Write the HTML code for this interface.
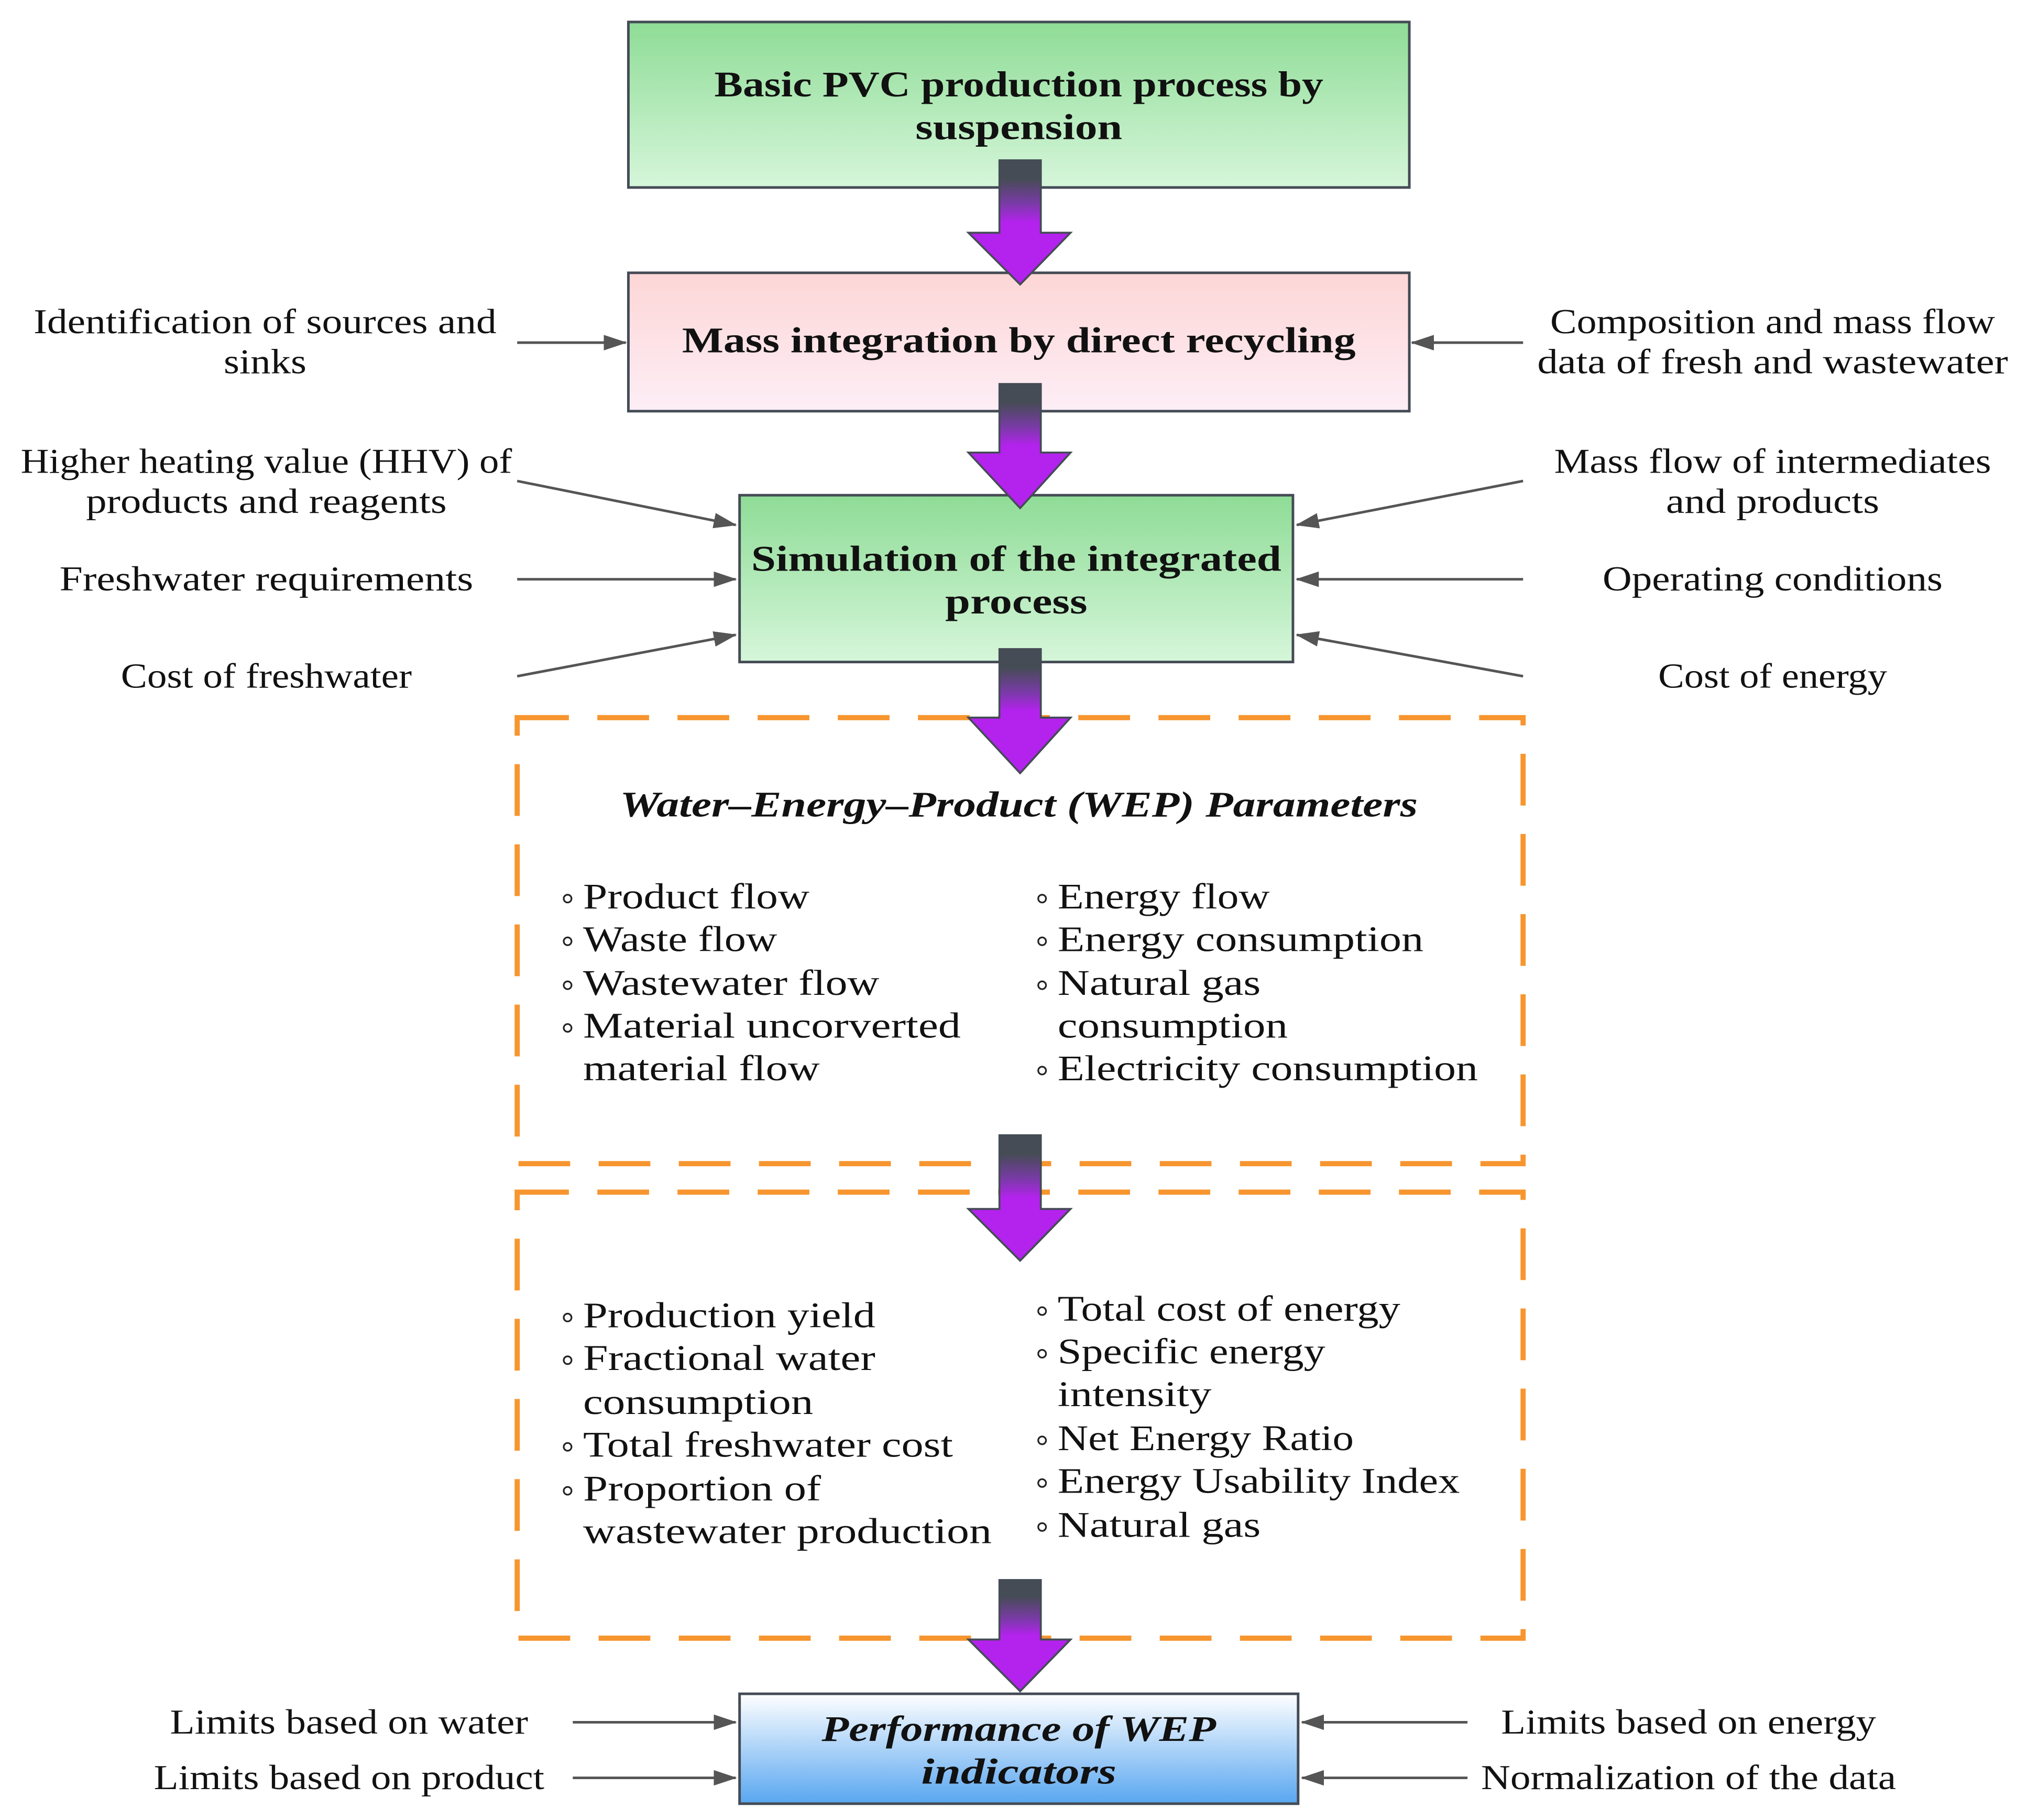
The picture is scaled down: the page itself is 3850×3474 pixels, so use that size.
<!DOCTYPE html>
<html><head><meta charset="utf-8"><style>
html,body{margin:0;padding:0;background:#fff}
svg{display:block}
text{font-family:"Liberation Serif","DejaVu Serif",serif;fill:#111;dominant-baseline:central}
</style></head><body>
<svg width="3850" height="3474" viewBox="0 0 1560 1407.6" preserveAspectRatio="none" xmlns="http://www.w3.org/2000/svg">
<defs>
<linearGradient id="g" x1="0" y1="0" x2="0" y2="1"><stop offset="0" stop-color="#8edc96"/><stop offset="1" stop-color="#d6f6da"/></linearGradient>
<linearGradient id="p" x1="0" y1="0" x2="0" y2="1"><stop offset="0" stop-color="#fdd6d6"/><stop offset="1" stop-color="#fdeef6"/></linearGradient>
<linearGradient id="b" x1="0" y1="0" x2="0" y2="1"><stop offset="0" stop-color="#ffffff"/><stop offset="1" stop-color="#58a6f0"/></linearGradient>
<linearGradient id="a" x1="0" y1="0" x2="0" y2="1"><stop offset="0" stop-color="#464c56"/><stop offset="0.15" stop-color="#464c56"/><stop offset="0.35" stop-color="#7a3aa8"/><stop offset="0.5" stop-color="#b422ee"/><stop offset="1" stop-color="#b422ee"/></linearGradient>
<marker id="mb" markerWidth="18" markerHeight="12" refX="17" refY="6" orient="auto" markerUnits="userSpaceOnUse"><path d="M0,0 L18,6 L0,12 Z" fill="#555"/></marker>
</defs>

<rect x="486" y="17" width="604" height="128" fill="url(#g)" stroke="#444b55" stroke-width="2"/>
<rect x="486" y="211" width="604" height="107" fill="url(#p)" stroke="#444b55" stroke-width="2"/>
<rect x="572" y="383" width="428" height="129" fill="url(#g)" stroke="#444b55" stroke-width="2"/>
<rect x="572" y="1310" width="432" height="85" fill="url(#b)" stroke="#444b55" stroke-width="2"/>

<g fill="none" stroke="#f7952f" stroke-width="4" stroke-dasharray="40,22">
<rect x="400" y="555" width="778" height="345"/>
<rect x="400" y="922" width="778" height="345"/>
</g>

<g font-weight="bold" font-size="28" text-anchor="middle" lengthAdjust="spacingAndGlyphs">
<text x="788" y="65" textLength="471" lengthAdjust="spacingAndGlyphs">Basic PVC production process by</text>
<text x="788" y="98" textLength="160" lengthAdjust="spacingAndGlyphs">suspension</text>
<text x="788" y="263" textLength="521" lengthAdjust="spacingAndGlyphs">Mass integration by direct recycling</text>
<text x="786" y="432" textLength="410" lengthAdjust="spacingAndGlyphs">Simulation of the integrated</text>
<text x="786" y="465" textLength="110" lengthAdjust="spacingAndGlyphs">process</text>
<text x="788" y="1337" font-style="italic" textLength="305" lengthAdjust="spacingAndGlyphs">Performance of WEP</text>
<text x="788" y="1370" font-style="italic" textLength="151" lengthAdjust="spacingAndGlyphs">indicators</text>
<text x="788" y="622" font-style="italic" textLength="617" lengthAdjust="spacingAndGlyphs">Water–Energy–Product (WEP) Parameters</text>
</g>

<g stroke="#444b55" stroke-width="1.5" fill="url(#a)">
<path d="M773,124 H805 V180 H828 L789,220 L749,180 H773 Z"/>
<path d="M773,297 H805 V350 H828 L789,393 L749,350 H773 Z"/>
<path d="M773,502 H805 V555 H828 L789,598 L749,555 H773 Z"/>
<path d="M773,878 H805 V935 H828 L789,975 L749,935 H773 Z"/>
<path d="M773,1222 H805 V1268 H828 L789,1308 L749,1268 H773 Z"/>
</g>

<g font-size="28">
<text x="451" y="693" textLength="175" lengthAdjust="spacingAndGlyphs">Product flow</text>
<text x="451" y="726" textLength="150" lengthAdjust="spacingAndGlyphs">Waste flow</text>
<text x="451" y="760" textLength="229" lengthAdjust="spacingAndGlyphs">Wastewater flow</text>
<text x="451" y="793" textLength="292" lengthAdjust="spacingAndGlyphs">Material uncorverted</text>
<text x="451" y="826" textLength="183" lengthAdjust="spacingAndGlyphs">material flow</text>
<text x="818" y="693" textLength="164" lengthAdjust="spacingAndGlyphs">Energy flow</text>
<text x="818" y="726" textLength="283" lengthAdjust="spacingAndGlyphs">Energy consumption</text>
<text x="818" y="760" textLength="157" lengthAdjust="spacingAndGlyphs">Natural gas</text>
<text x="818" y="793" textLength="178" lengthAdjust="spacingAndGlyphs">consumption</text>
<text x="818" y="826" textLength="325" lengthAdjust="spacingAndGlyphs">Electricity consumption</text>
<text x="451" y="1017" textLength="226" lengthAdjust="spacingAndGlyphs">Production yield</text>
<text x="451" y="1050" textLength="226" lengthAdjust="spacingAndGlyphs">Fractional water</text>
<text x="451" y="1084" textLength="178" lengthAdjust="spacingAndGlyphs">consumption</text>
<text x="451" y="1117" textLength="286" lengthAdjust="spacingAndGlyphs">Total freshwater cost</text>
<text x="451" y="1151" textLength="184" lengthAdjust="spacingAndGlyphs">Proportion of</text>
<text x="451" y="1184" textLength="316" lengthAdjust="spacingAndGlyphs">wastewater production</text>
<text x="818" y="1012" textLength="265" lengthAdjust="spacingAndGlyphs">Total cost of energy</text>
<text x="818" y="1045" textLength="207" lengthAdjust="spacingAndGlyphs">Specific energy</text>
<text x="818" y="1078" textLength="119" lengthAdjust="spacingAndGlyphs">intensity</text>
<text x="818" y="1112" textLength="229" lengthAdjust="spacingAndGlyphs">Net Energy Ratio</text>
<text x="818" y="1145" textLength="311" lengthAdjust="spacingAndGlyphs">Energy Usability Index</text>
<text x="818" y="1179" textLength="157" lengthAdjust="spacingAndGlyphs">Natural gas</text>
</g>
<g fill="none" stroke="#222" stroke-width="1.3">
<circle cx="439" cy="695" r="3"/><circle cx="439" cy="728" r="3"/><circle cx="439" cy="762" r="3"/><circle cx="439" cy="795" r="3"/>
<circle cx="806" cy="695" r="3"/><circle cx="806" cy="728" r="3"/><circle cx="806" cy="762" r="3"/><circle cx="806" cy="828" r="3"/>
<circle cx="439" cy="1019" r="3"/><circle cx="439" cy="1052" r="3"/><circle cx="439" cy="1119" r="3"/><circle cx="439" cy="1153" r="3"/>
<circle cx="806" cy="1014" r="3"/><circle cx="806" cy="1047" r="3"/><circle cx="806" cy="1114" r="3"/><circle cx="806" cy="1147" r="3"/><circle cx="806" cy="1181" r="3"/>
</g>

<g font-size="27" text-anchor="middle">
<text x="205" y="249" textLength="358" lengthAdjust="spacingAndGlyphs">Identification of sources and</text>
<text x="205" y="280" textLength="64" lengthAdjust="spacingAndGlyphs">sinks</text>
<text x="1371" y="249" textLength="344" lengthAdjust="spacingAndGlyphs">Composition and mass flow</text>
<text x="1371" y="280" textLength="364" lengthAdjust="spacingAndGlyphs">data of fresh and wastewater</text>
<text x="206" y="357" textLength="380" lengthAdjust="spacingAndGlyphs">Higher heating value (HHV) of</text>
<text x="206" y="388" textLength="279" lengthAdjust="spacingAndGlyphs">products and reagents</text>
<text x="206" y="448" textLength="320" lengthAdjust="spacingAndGlyphs">Freshwater requirements</text>
<text x="206" y="523" textLength="225" lengthAdjust="spacingAndGlyphs">Cost of freshwater</text>
<text x="1371" y="357" textLength="338" lengthAdjust="spacingAndGlyphs">Mass flow of intermediates</text>
<text x="1371" y="388" textLength="165" lengthAdjust="spacingAndGlyphs">and products</text>
<text x="1371" y="448" textLength="263" lengthAdjust="spacingAndGlyphs">Operating conditions</text>
<text x="1371" y="523" textLength="177" lengthAdjust="spacingAndGlyphs">Cost of energy</text>
<text x="270" y="1332" textLength="277" lengthAdjust="spacingAndGlyphs">Limits based on water</text>
<text x="270" y="1375" textLength="302" lengthAdjust="spacingAndGlyphs">Limits based on product</text>
<text x="1306" y="1332" textLength="290" lengthAdjust="spacingAndGlyphs">Limits based on energy</text>
<text x="1306" y="1375" textLength="321" lengthAdjust="spacingAndGlyphs">Normalization of the data</text>
</g>

<g stroke="#555" stroke-width="2" marker-end="url(#mb)">
<line x1="400" y1="265" x2="484" y2="265"/>
<line x1="1178" y1="265" x2="1092" y2="265"/>
<line x1="400" y1="372" x2="569" y2="406"/>
<line x1="400" y1="448" x2="569" y2="448"/>
<line x1="400" y1="523" x2="569" y2="491"/>
<line x1="1178" y1="372" x2="1003" y2="406"/>
<line x1="1178" y1="448" x2="1003" y2="448"/>
<line x1="1178" y1="523" x2="1003" y2="491"/>
<line x1="443" y1="1332" x2="569" y2="1332"/>
<line x1="443" y1="1375" x2="569" y2="1375"/>
<line x1="1135" y1="1332" x2="1007" y2="1332"/>
<line x1="1135" y1="1375" x2="1007" y2="1375"/>
</g>
</svg>
</body></html>
